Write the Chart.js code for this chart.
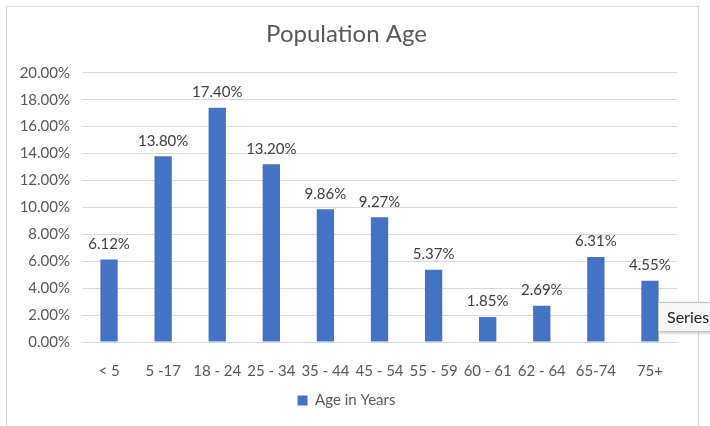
<!DOCTYPE html>
<html>
<head>
<meta charset="utf-8">
<script src="https://cdn.jsdelivr.net/npm/chart.js@4.4.1/dist/chart.umd.min.js"></script>
<style>
    html, body { margin: 0; padding: 0; background: #fff; }
    #wrap { position: relative; width: 710px; height: 426px; overflow: hidden; }
    #frame { position: absolute; left: 6px; top: 6px; width: 691px; height: 440px; border: 1px solid #d9d9d9; }
    #chartBox { position: absolute; left: 0; top: 0; width: 710px; height: 426px; }
    #tip {
        position: absolute; left: 658px; top: 302px; height: 28px; padding: 0 8px;
        background: #f7f7f7; border: 1px solid #c8c8c8; box-shadow: 1px 1px 3px rgba(0,0,0,0.25);
        font: 16px Lato, sans-serif; color: #222; line-height: 28px; white-space: nowrap;
    }
</style>
</head>
<body>
<div id="wrap">
    <div id="frame"></div>
    <div id="chartBox"><canvas id="ageChart" width="710" height="426"></canvas></div>
    <div id="tip">Series</div>
</div>
<script>
// --- Data ---
const ageGroups = ['< 5', '5 -17', '18 - 24', '25 - 34', '35 - 44', '45 - 54', '55 - 59', '60 - 61', '62 - 64', '65-74', '75+'];
const agePercent = [6.12, 13.80, 17.40, 13.20, 9.86, 9.27, 5.37, 1.85, 2.69, 6.31, 4.55];
const seriesName = 'Age in Years';
const chartTitle = 'Population Age';

const textColor = '#595959';
const barColor = '#4472C4';
const fontFamily = 'Lato, "Open Sans", sans-serif';

// simple data label plugin (no datalabels plugin available offline)
const barLabels = {
    id: 'barLabels',
    afterDatasetsDraw(chart) {
        const ctx = chart.ctx;
        const meta = chart.getDatasetMeta(0);
        ctx.save();
        ctx.font = '15px ' + fontFamily;
        ctx.fillStyle = '#404040';
        ctx.textAlign = 'center';
        ctx.textBaseline = 'bottom';
        meta.data.forEach(function (bar, i) {
            ctx.fillText(agePercent[i].toFixed(2) + '%', bar.x, bar.y - 8);
        });
        ctx.restore();
    }
};

const ctx = document.getElementById('ageChart').getContext('2d');
const ageChart = new Chart(ctx, {
    type: 'bar',
    data: {
        labels: ageGroups,
        datasets: [{
            label: seriesName,
            data: agePercent,
            backgroundColor: barColor,
            barPercentage: 0.32,
            categoryPercentage: 1.0
        }]
    },
    options: {
        responsive: false,
        animation: false,
        // left padding shifts the title/legend centre towards the frame's centre
        layout: { padding: { top: 20, right: 33, bottom: 8, left: 16 } },
        plugins: {
            title: {
                display: true,
                text: chartTitle,
                color: textColor,
                font: { family: fontFamily, size: 24, weight: 'normal' },
                padding: { top: 0, bottom: 24 }
            },
            legend: {
                position: 'bottom',
                labels: {
                    color: textColor,
                    font: { family: fontFamily, size: 15 },
                    boxWidth: 10,
                    boxHeight: 10,
                    padding: 3
                }
            },
            tooltip: { enabled: false }
        },
        scales: {
            x: {
                afterFit: function (scale) { scale.height = 48; },
                grid: { display: false, drawTicks: false },
                border: { color: '#d9d9d9' },
                ticks: { color: textColor, font: { family: fontFamily, size: 15 }, padding: 20, maxRotation: 0, autoSkip: false }
            },
            y: {
                min: 0,
                max: 20,
                afterFit: function (scale) { scale.width = 66; },
                grid: { color: '#d9d9d9', drawTicks: false },
                border: { display: false },
                ticks: {
                    stepSize: 2,
                    color: textColor,
                    font: { family: fontFamily, size: 15 },
                    padding: 12,
                    callback: function (v) { return v.toFixed(2) + '%'; }
                }
            }
        }
    },
    plugins: [barLabels]
});
</script>
</body>
</html>
